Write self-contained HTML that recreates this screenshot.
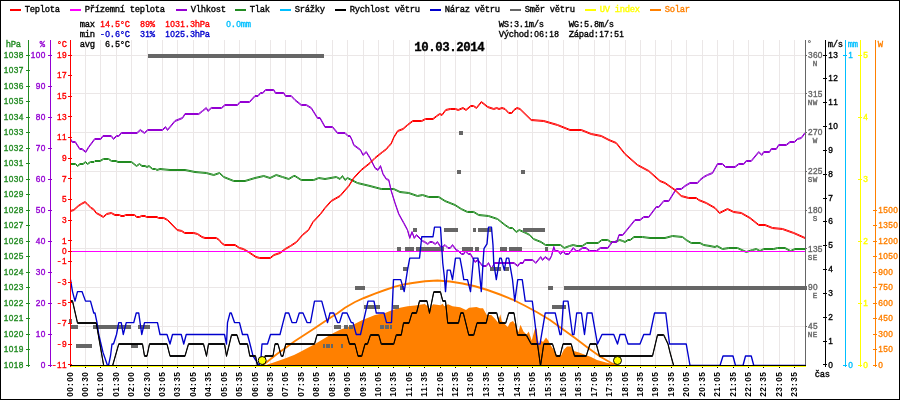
<!DOCTYPE html>
<html><head><meta charset="utf-8"><title>graf</title>
<style>
html,body{margin:0;padding:0;background:#fff;}
svg{display:block;will-change:transform;}
text{font-family:"Liberation Mono",monospace;stroke-width:0.35px;}
.d{font-family:"Liberation Sans",sans-serif;font-size:8.3px;}
</style></head><body>
<svg width="900" height="400" viewBox="0 0 900 400">
<rect x="0" y="0" width="900" height="400" fill="#fff"/>
<g shape-rendering="crispEdges" stroke="#ebe7e7" stroke-width="1">
<line x1="85.5" y1="40" x2="85.5" y2="365"/><line x1="100.5" y1="40" x2="100.5" y2="365"/><line x1="116.5" y1="40" x2="116.5" y2="365"/><line x1="131.5" y1="40" x2="131.5" y2="365"/><line x1="147.5" y1="40" x2="147.5" y2="365"/><line x1="162.5" y1="40" x2="162.5" y2="365"/><line x1="177.5" y1="40" x2="177.5" y2="365"/><line x1="193.5" y1="40" x2="193.5" y2="365"/><line x1="208.5" y1="40" x2="208.5" y2="365"/><line x1="224.5" y1="40" x2="224.5" y2="365"/><line x1="239.5" y1="40" x2="239.5" y2="365"/><line x1="255.5" y1="40" x2="255.5" y2="365"/><line x1="270.5" y1="40" x2="270.5" y2="365"/><line x1="285.5" y1="40" x2="285.5" y2="365"/><line x1="301.5" y1="40" x2="301.5" y2="365"/><line x1="316.5" y1="40" x2="316.5" y2="365"/><line x1="332.5" y1="40" x2="332.5" y2="365"/><line x1="347.5" y1="40" x2="347.5" y2="365"/><line x1="363.5" y1="40" x2="363.5" y2="365"/><line x1="378.5" y1="40" x2="378.5" y2="365"/><line x1="393.5" y1="40" x2="393.5" y2="365"/><line x1="409.5" y1="40" x2="409.5" y2="365"/><line x1="424.5" y1="40" x2="424.5" y2="365"/><line x1="440.5" y1="40" x2="440.5" y2="365"/><line x1="455.5" y1="40" x2="455.5" y2="365"/><line x1="470.5" y1="40" x2="470.5" y2="365"/><line x1="486.5" y1="40" x2="486.5" y2="365"/><line x1="501.5" y1="40" x2="501.5" y2="365"/><line x1="517.5" y1="40" x2="517.5" y2="365"/><line x1="532.5" y1="40" x2="532.5" y2="365"/><line x1="548.5" y1="40" x2="548.5" y2="365"/><line x1="563.5" y1="40" x2="563.5" y2="365"/><line x1="578.5" y1="40" x2="578.5" y2="365"/><line x1="594.5" y1="40" x2="594.5" y2="365"/><line x1="609.5" y1="40" x2="609.5" y2="365"/><line x1="625.5" y1="40" x2="625.5" y2="365"/><line x1="640.5" y1="40" x2="640.5" y2="365"/><line x1="655.5" y1="40" x2="655.5" y2="365"/><line x1="671.5" y1="40" x2="671.5" y2="365"/><line x1="686.5" y1="40" x2="686.5" y2="365"/><line x1="702.5" y1="40" x2="702.5" y2="365"/><line x1="717.5" y1="40" x2="717.5" y2="365"/><line x1="733.5" y1="40" x2="733.5" y2="365"/><line x1="748.5" y1="40" x2="748.5" y2="365"/><line x1="763.5" y1="40" x2="763.5" y2="365"/><line x1="779.5" y1="40" x2="779.5" y2="365"/><line x1="794.5" y1="40" x2="794.5" y2="365"/><line x1="71" y1="55.5" x2="805" y2="55.5"/><line x1="71" y1="93.5" x2="805" y2="93.5"/><line x1="71" y1="132.5" x2="805" y2="132.5"/><line x1="71" y1="171.5" x2="805" y2="171.5"/><line x1="71" y1="210.5" x2="805" y2="210.5"/><line x1="71" y1="248.5" x2="805" y2="248.5"/><line x1="71" y1="287.5" x2="805" y2="287.5"/><line x1="71" y1="326.5" x2="805" y2="326.5"/>
</g>
<polygon fill="#ff8000" points="264.50,365.50 275.00,362.00 285.00,358.50 294.00,355.00 300.00,352.00 307.50,348.00 315.00,344.00 325.00,338.00 333.00,333.30 340.00,329.80 350.00,326.25 362.50,320.00 375.00,315.00 385.00,313.00 392.50,310.00 400.00,307.75 407.50,306.25 415.00,305.50 424.75,304.00 427.75,306.25 430.00,308.50 433.00,304.30 440.50,305.20 442.75,303.70 444.25,306.25 448.00,304.30 452.50,306.25 460.00,307.30 466.00,310.00 469.00,307.75 476.50,307.00 480.00,308.25 483.00,308.25 486.75,315.00 491.25,315.00 495.00,318.75 498.00,322.50 500.25,314.25 501.75,321.00 504.75,324.00 507.75,327.00 510.00,322.50 513.00,321.00 516.00,325.50 518.25,332.25 520.50,324.75 523.50,331.50 526.50,334.50 528.75,331.50 531.75,340.50 534.75,329.25 536.70,328.50 537.75,339.00 539.25,345.00 541.50,340.50 543.00,342.00 546.00,337.50 548.25,340.50 550.50,345.00 553.50,349.50 556.50,354.75 561.00,355.50 564.00,349.50 567.00,346.50 570.75,346.50 573.75,351.00 579.00,352.50 585.00,354.75 591.00,357.00 597.00,360.00 606.00,362.50 612.50,364.00 617.00,365.50 617,366 263,366"/>
<polyline fill="none" stroke="#ff8000" stroke-width="1.9" points="263.00,365.00 270.00,359.50 277.00,354.00 287.50,346.40 295.00,341.00 305.00,334.50 315.00,328.00 325.00,321.30 333.00,316.00 337.50,313.20 345.00,307.80 355.00,302.00 364.00,298.00 375.00,293.60 385.00,290.00 395.00,286.60 405.00,284.20 412.50,283.00 425.00,281.25 437.50,280.50 450.00,281.50 462.50,283.50 475.00,286.25 487.50,290.00 500.00,294.50 512.50,299.50 525.00,305.75 537.50,312.50 550.00,320.00 562.50,329.00 575.00,338.00 587.50,347.50 600.00,356.50 612.50,363.75 617.00,365.50"/>
<g fill="none" stroke="#228b22" stroke-width="1.0" stroke-linejoin="round"><polyline points="70.50,163.50 75.50,163.50 77.50,165.50 80.00,163.50 83.00,163.50 85.50,161.50 87.50,163.50 90.50,161.50 94.00,161.50 95.00,160.50 100.00,160.50 103.50,158.50 108.50,158.50 111.50,160.50 116.00,160.50 118.00,161.50 131.50,161.50 134.00,163.50 136.50,165.50 139.50,163.50 142.00,165.50 145.00,165.50 147.00,166.50 149.00,165.50 152.50,168.50 155.50,168.50 157.00,169.50 160.00,168.50 170.00,169.50 185.00,169.50 195.00,171.50 206.25,172.50 213.75,174.50 219.50,172.50 223.75,176.50 233.75,180.50 245.00,180.50 255.00,177.50 263.75,175.50 270.00,177.50 276.25,174.50 282.50,176.50 288.75,178.50 293.75,175.50 295.00,175.50 301.25,179.50 313.75,179.50 318.75,177.50 325.00,178.50 336.25,176.50 340.00,178.50 342.50,175.50 345.00,179.50 347.50,177.50 357.50,182.50 370.00,185.50 381.25,188.50 393.75,188.50 400.00,191.50 408.75,192.50 417.50,195.50 422.50,194.50 428.75,196.50 438.75,196.50 445.00,200.50 455.00,204.50 461.25,208.50 467.50,211.50 473.75,211.50 478.75,214.50 488.50,215.50 497.50,218.50 505.00,224.50 509.50,227.50 512.50,227.50 516.25,231.50 519.25,229.50 526.00,232.50 529.75,234.50 533.50,238.50 541.00,241.50 545.50,244.50 560.50,244.50 564.25,247.50 569.50,245.50 573.25,244.50 577.00,245.50 582.25,245.50 586.75,242.50 598.00,242.50 601.75,239.50 607.75,239.50 610.75,241.50 614.50,241.50 619.75,239.50 622.75,240.50 625.00,241.50 628.00,239.50 630.25,239.50 634.00,236.50 642.50,236.50 650.00,237.50 665.00,237.50 672.50,235.50 682.50,236.50 686.25,239.50 691.25,242.50 700.00,242.50 703.75,244.50 710.00,245.50 715.00,246.50 717.00,245.50 722.50,248.50 728.75,247.50 737.50,247.50 746.25,251.50 752.50,249.50 756.25,248.50 760.00,250.50 763.75,248.50 773.75,248.50 777.50,247.50 785.00,247.50 790.50,250.50 795.00,248.50 805.00,248.50"/><polyline points="70.50,164.50 75.50,164.50 77.50,166.50 80.00,164.50 83.00,164.50 85.50,162.50 87.50,164.50 90.50,162.50 94.00,162.50 95.00,161.50 100.00,161.50 103.50,159.50 108.50,159.50 111.50,161.50 116.00,161.50 118.00,162.50 131.50,162.50 134.00,164.50 136.50,166.50 139.50,164.50 142.00,166.50 145.00,166.50 147.00,167.50 149.00,166.50 152.50,169.50 155.50,169.50 157.00,170.50 160.00,169.50 170.00,170.50 185.00,170.50 195.00,172.50 206.25,173.50 213.75,175.50 219.50,173.50 223.75,177.50 233.75,181.50 245.00,181.50 255.00,178.50 263.75,176.50 270.00,178.50 276.25,175.50 282.50,177.50 288.75,179.50 293.75,176.50 295.00,176.50 301.25,180.50 313.75,180.50 318.75,178.50 325.00,179.50 336.25,177.50 340.00,179.50 342.50,176.50 345.00,180.50 347.50,178.50 357.50,183.50 370.00,186.50 381.25,189.50 393.75,189.50 400.00,192.50 408.75,193.50 417.50,196.50 422.50,195.50 428.75,197.50 438.75,197.50 445.00,201.50 455.00,205.50 461.25,209.50 467.50,212.50 473.75,212.50 478.75,215.50 488.50,216.50 497.50,219.50 505.00,225.50 509.50,228.50 512.50,228.50 516.25,232.50 519.25,230.50 526.00,233.50 529.75,235.50 533.50,239.50 541.00,242.50 545.50,245.50 560.50,245.50 564.25,248.50 569.50,246.50 573.25,245.50 577.00,246.50 582.25,246.50 586.75,243.50 598.00,243.50 601.75,240.50 607.75,240.50 610.75,242.50 614.50,242.50 619.75,240.50 622.75,241.50 625.00,242.50 628.00,240.50 630.25,240.50 634.00,237.50 642.50,237.50 650.00,238.50 665.00,238.50 672.50,236.50 682.50,237.50 686.25,240.50 691.25,243.50 700.00,243.50 703.75,245.50 710.00,246.50 715.00,247.50 717.00,246.50 722.50,249.50 728.75,248.50 737.50,248.50 746.25,252.50 752.50,250.50 756.25,249.50 760.00,251.50 763.75,249.50 773.75,249.50 777.50,248.50 785.00,248.50 790.50,251.50 795.00,249.50 805.00,249.50"/></g>
<g fill="none" stroke="#9400d3" stroke-width="1.0" stroke-linejoin="round"><polyline points="70.50,138.50 72.25,141.50 75.25,141.50 79.75,148.50 82.00,148.50 85.75,151.50 88.75,146.50 94.75,138.50 100.75,138.50 103.00,135.50 111.25,135.50 113.50,138.50 116.50,135.50 118.75,135.50 121.30,132.50 137.00,132.50 140.25,129.50 144.50,132.50 147.75,129.50 162.50,129.50 165.50,126.50 167.50,129.50 175.00,120.50 182.50,117.50 185.00,113.50 198.75,113.50 202.50,110.50 206.25,107.50 208.00,110.50 211.25,107.50 221.50,107.50 225.00,104.50 237.50,104.50 240.00,101.50 249.50,101.50 255.00,95.50 258.00,95.50 260.50,92.50 262.75,92.50 265.50,89.50 273.75,89.50 275.50,92.50 283.75,92.50 285.50,95.50 291.25,95.50 295.00,99.50 301.25,104.50 306.25,104.50 311.25,107.50 317.50,117.50 320.00,117.50 325.00,126.50 332.50,126.50 337.50,132.50 345.00,132.50 348.00,135.50 350.00,135.50 352.00,139.50 353.75,144.50 360.50,149.50 363.00,154.50 366.25,151.50 370.00,157.50 375.00,167.50 378.00,169.50 380.50,165.50 383.00,173.50 386.25,178.50 388.75,179.50 391.25,190.50 395.00,202.50 398.75,213.50 403.75,222.50 407.50,229.50 409.75,237.50 412.00,231.50 414.25,237.50 416.50,234.50 422.50,240.50 424.75,241.50 427.75,243.50 430.00,241.50 432.25,241.50 435.25,243.50 437.50,241.50 441.25,247.50 445.00,244.50 448.00,247.50 450.25,247.50 452.50,244.50 456.25,249.50 458.50,250.50 461.50,253.50 463.75,253.50 465.25,250.50 468.25,253.50 470.50,253.50 475.00,261.50 478.00,259.50 482.50,265.50 486.25,265.50 488.50,262.50 491.50,268.50 494.50,262.50 514.00,262.50 517.75,265.50 520.00,262.50 523.00,262.50 524.50,259.50 532.75,259.50 535.75,262.50 540.70,256.50 542.50,259.50 545.20,256.50 549.25,259.50 551.50,255.50 553.75,246.50 555.25,250.50 558.25,250.50 560.50,253.50 563.20,250.50 565.30,253.50 568.75,253.50 573.25,247.50 576.25,250.50 578.50,250.50 582.25,247.50 586.00,247.50 589.75,250.50 596.50,250.50 600.25,247.50 607.75,247.50 612.25,241.50 616.75,241.50 619.00,234.50 622.75,234.50 635.00,219.50 640.00,219.50 643.75,216.50 648.75,216.50 656.25,206.50 658.75,206.50 663.75,200.50 668.75,200.50 676.25,188.50 681.25,188.50 685.00,185.50 690.00,182.50 697.50,182.50 700.00,179.50 703.75,176.50 707.50,174.50 712.50,172.50 717.50,163.50 722.50,163.50 725.50,166.50 735.00,166.50 738.75,163.50 743.75,163.50 746.25,160.50 751.25,160.50 758.75,151.50 761.75,154.50 763.75,151.50 769.50,151.50 771.25,148.50 776.25,148.50 778.75,144.50 786.25,144.50 790.00,141.50 794.50,141.50 797.50,138.50 801.25,137.50 805.00,132.50"/><polyline points="70.50,139.50 72.25,142.50 75.25,142.50 79.75,149.50 82.00,149.50 85.75,152.50 88.75,147.50 94.75,139.50 100.75,139.50 103.00,136.50 111.25,136.50 113.50,139.50 116.50,136.50 118.75,136.50 121.30,133.50 137.00,133.50 140.25,130.50 144.50,133.50 147.75,130.50 162.50,130.50 165.50,127.50 167.50,130.50 175.00,121.50 182.50,118.50 185.00,114.50 198.75,114.50 202.50,111.50 206.25,108.50 208.00,111.50 211.25,108.50 221.50,108.50 225.00,105.50 237.50,105.50 240.00,102.50 249.50,102.50 255.00,96.50 258.00,96.50 260.50,93.50 262.75,93.50 265.50,90.50 273.75,90.50 275.50,93.50 283.75,93.50 285.50,96.50 291.25,96.50 295.00,100.50 301.25,105.50 306.25,105.50 311.25,108.50 317.50,118.50 320.00,118.50 325.00,127.50 332.50,127.50 337.50,133.50 345.00,133.50 348.00,136.50 350.00,136.50 352.00,140.50 353.75,145.50 360.50,150.50 363.00,155.50 366.25,152.50 370.00,158.50 375.00,168.50 378.00,170.50 380.50,166.50 383.00,174.50 386.25,179.50 388.75,180.50 391.25,191.50 395.00,203.50 398.75,214.50 403.75,223.50 407.50,230.50 409.75,238.50 412.00,232.50 414.25,238.50 416.50,235.50 422.50,241.50 424.75,242.50 427.75,244.50 430.00,242.50 432.25,242.50 435.25,244.50 437.50,242.50 441.25,248.50 445.00,245.50 448.00,248.50 450.25,248.50 452.50,245.50 456.25,250.50 458.50,251.50 461.50,254.50 463.75,254.50 465.25,251.50 468.25,254.50 470.50,254.50 475.00,262.50 478.00,260.50 482.50,266.50 486.25,266.50 488.50,263.50 491.50,269.50 494.50,263.50 514.00,263.50 517.75,266.50 520.00,263.50 523.00,263.50 524.50,260.50 532.75,260.50 535.75,263.50 540.70,257.50 542.50,260.50 545.20,257.50 549.25,260.50 551.50,256.50 553.75,247.50 555.25,251.50 558.25,251.50 560.50,254.50 563.20,251.50 565.30,254.50 568.75,254.50 573.25,248.50 576.25,251.50 578.50,251.50 582.25,248.50 586.00,248.50 589.75,251.50 596.50,251.50 600.25,248.50 607.75,248.50 612.25,242.50 616.75,242.50 619.00,235.50 622.75,235.50 635.00,220.50 640.00,220.50 643.75,217.50 648.75,217.50 656.25,207.50 658.75,207.50 663.75,201.50 668.75,201.50 676.25,189.50 681.25,189.50 685.00,186.50 690.00,183.50 697.50,183.50 700.00,180.50 703.75,177.50 707.50,175.50 712.50,173.50 717.50,164.50 722.50,164.50 725.50,167.50 735.00,167.50 738.75,164.50 743.75,164.50 746.25,161.50 751.25,161.50 758.75,152.50 761.75,155.50 763.75,152.50 769.50,152.50 771.25,149.50 776.25,149.50 778.75,145.50 786.25,145.50 790.00,142.50 794.50,142.50 797.50,139.50 801.25,138.50 805.00,133.50"/></g>
<g fill="none" stroke="#ff0000" stroke-width="1.0" stroke-linejoin="round"><polyline points="70.50,210.50 73.75,209.50 78.25,205.50 81.25,203.50 85.00,201.50 87.25,203.50 91.00,207.50 93.25,208.50 96.25,212.50 100.00,214.50 103.30,216.50 106.75,213.50 111.25,212.50 115.00,214.50 119.50,214.50 121.00,215.50 124.00,215.50 125.50,214.50 134.50,214.50 136.75,216.50 139.75,216.50 141.25,215.50 145.00,215.50 146.50,216.50 157.00,216.50 158.50,217.50 163.75,217.50 167.50,219.50 177.25,229.50 181.75,230.50 184.75,232.50 193.75,232.50 197.50,233.50 202.00,236.50 205.00,237.50 216.25,237.50 219.25,239.50 221.50,242.50 224.50,244.50 235.00,244.50 239.50,247.50 243.25,248.50 248.50,251.50 256.00,256.50 259.75,257.50 270.25,257.50 274.00,254.50 280.00,252.50 285.25,248.50 290.50,245.50 296.50,241.50 302.50,234.50 308.50,229.50 313.00,221.50 320.50,213.50 325.00,207.50 331.25,200.50 340.00,195.50 348.75,185.50 353.75,177.50 361.25,169.50 370.00,162.50 375.00,157.50 382.50,151.50 386.50,148.50 388.75,145.50 391.00,143.50 394.00,136.50 397.75,130.50 403.00,128.50 407.50,124.50 412.75,120.50 415.00,120.50 421.75,120.50 425.50,118.50 433.00,118.50 436.75,115.50 439.75,113.50 442.00,114.50 445.75,109.50 450.25,108.50 455.50,108.50 458.20,109.50 463.00,107.50 466.00,109.50 470.80,105.50 473.50,105.50 476.50,107.50 481.30,101.50 484.00,103.50 487.75,106.50 493.75,108.50 496.75,107.50 499.00,108.50 502.00,107.50 505.00,108.50 508.75,112.50 511.75,112.50 514.00,109.50 517.00,107.50 520.00,108.50 531.25,119.50 543.75,120.50 557.50,124.50 570.00,129.50 581.25,129.50 591.25,133.50 601.25,135.50 609.00,139.50 616.25,142.50 625.00,153.50 637.50,164.50 648.75,170.50 660.00,180.50 665.00,182.50 675.00,189.50 681.25,195.50 688.75,197.50 696.25,197.50 698.75,199.50 706.25,202.50 715.00,207.50 719.50,212.50 727.50,208.50 733.75,211.50 741.25,212.50 750.00,217.50 758.75,224.50 765.00,224.50 772.50,227.50 782.50,228.50 793.75,232.50 805.00,237.50"/><polyline points="70.50,211.50 73.75,210.50 78.25,206.50 81.25,204.50 85.00,202.50 87.25,204.50 91.00,208.50 93.25,209.50 96.25,213.50 100.00,215.50 103.30,217.50 106.75,214.50 111.25,213.50 115.00,215.50 119.50,215.50 121.00,216.50 124.00,216.50 125.50,215.50 134.50,215.50 136.75,217.50 139.75,217.50 141.25,216.50 145.00,216.50 146.50,217.50 157.00,217.50 158.50,218.50 163.75,218.50 167.50,220.50 177.25,230.50 181.75,231.50 184.75,233.50 193.75,233.50 197.50,234.50 202.00,237.50 205.00,238.50 216.25,238.50 219.25,240.50 221.50,243.50 224.50,245.50 235.00,245.50 239.50,248.50 243.25,249.50 248.50,252.50 256.00,257.50 259.75,258.50 270.25,258.50 274.00,255.50 280.00,253.50 285.25,249.50 290.50,246.50 296.50,242.50 302.50,235.50 308.50,230.50 313.00,222.50 320.50,214.50 325.00,208.50 331.25,201.50 340.00,196.50 348.75,186.50 353.75,178.50 361.25,170.50 370.00,163.50 375.00,158.50 382.50,152.50 386.50,149.50 388.75,146.50 391.00,144.50 394.00,137.50 397.75,131.50 403.00,129.50 407.50,125.50 412.75,121.50 415.00,121.50 421.75,121.50 425.50,119.50 433.00,119.50 436.75,116.50 439.75,114.50 442.00,115.50 445.75,110.50 450.25,109.50 455.50,109.50 458.20,110.50 463.00,108.50 466.00,110.50 470.80,106.50 473.50,106.50 476.50,108.50 481.30,102.50 484.00,104.50 487.75,107.50 493.75,109.50 496.75,108.50 499.00,109.50 502.00,108.50 505.00,109.50 508.75,113.50 511.75,113.50 514.00,110.50 517.00,108.50 520.00,109.50 531.25,120.50 543.75,121.50 557.50,125.50 570.00,130.50 581.25,130.50 591.25,134.50 601.25,136.50 609.00,140.50 616.25,143.50 625.00,154.50 637.50,165.50 648.75,171.50 660.00,181.50 665.00,183.50 675.00,190.50 681.25,196.50 688.75,198.50 696.25,198.50 698.75,200.50 706.25,203.50 715.00,208.50 719.50,213.50 727.50,209.50 733.75,212.50 741.25,213.50 750.00,218.50 758.75,225.50 765.00,225.50 772.50,228.50 782.50,229.50 793.75,233.50 805.00,238.50"/></g>
<g shape-rendering="crispEdges"><rect x="71" y="251" width="735" height="1" fill="#ff00ff"/></g>
<g fill="#666" shape-rendering="crispEdges"><rect x="148.0" y="54" width="176.0" height="4"/><rect x="459.0" y="131" width="3.5" height="4"/><rect x="457.0" y="170" width="3.5" height="4"/><rect x="521.0" y="170" width="4.0" height="4"/><rect x="413.0" y="228" width="4.0" height="4"/><rect x="444.0" y="228" width="14.0" height="4"/><rect x="472.5" y="228" width="3.5" height="4"/><rect x="477.5" y="228" width="14.0" height="4"/><rect x="523.0" y="228" width="22.0" height="4"/><rect x="397.0" y="247" width="3.5" height="4"/><rect x="405.0" y="247" width="8.5" height="4"/><rect x="415.5" y="247" width="28.5" height="4"/><rect x="462.0" y="247" width="10.8" height="4"/><rect x="475.0" y="247" width="3.8" height="4"/><rect x="500.0" y="247" width="6.5" height="4"/><rect x="508.5" y="247" width="13.0" height="4"/><rect x="544.5" y="247" width="3.2" height="4"/><rect x="403.0" y="267" width="4.5" height="4"/><rect x="490.0" y="267" width="10.5" height="4"/><rect x="504.2" y="267" width="4.5" height="4"/><rect x="354.5" y="286" width="10.0" height="4"/><rect x="400.0" y="286" width="3.8" height="4"/><rect x="547.5" y="286" width="5.5" height="4"/><rect x="564.2" y="286" width="242.8" height="4"/><rect x="364.2" y="305" width="16.2" height="4"/><rect x="392.5" y="305" width="6.3" height="4"/><rect x="552.2" y="305" width="13.5" height="4"/><rect x="70.0" y="325" width="7.5" height="4"/><rect x="92.5" y="325" width="38.0" height="4"/><rect x="138.0" y="325" width="11.5" height="4"/><rect x="333.8" y="325" width="7.5" height="4"/><rect x="343.5" y="325" width="2.2" height="4"/><rect x="346.1" y="325" width="2.2" height="4"/><rect x="348.6" y="325" width="2.2" height="4"/><rect x="351.2" y="325" width="2.2" height="4"/><rect x="379.5" y="325" width="2.2" height="4"/><rect x="382.1" y="325" width="2.2" height="4"/><rect x="384.6" y="325" width="2.2" height="4"/><rect x="387.2" y="325" width="2.2" height="4"/><rect x="389.8" y="325" width="2.2" height="4"/><rect x="76.2" y="344" width="16.2" height="4"/><rect x="130.5" y="344" width="7.5" height="4"/><rect x="323.0" y="344" width="2.2" height="4"/><rect x="325.6" y="344" width="2.2" height="4"/><rect x="328.1" y="344" width="2.2" height="4"/><rect x="330.7" y="344" width="2.2" height="4"/><rect x="341.2" y="344" width="1.8" height="4"/><rect x="69.0" y="319" width="3.0" height="4"/></g>
<polyline fill="none" stroke="#0000cd" stroke-width="1.35" stroke-linejoin="round" points="70.50,279.65 72.50,291.58 75.00,301.12 77.50,291.58 82.00,291.58 85.50,301.12 90.50,301.12 93.75,313.04 95.00,313.04 97.00,322.58 98.75,334.50 103.00,352.38 107.50,365.50 108.50,365.50 110.50,355.96 112.00,344.04 113.50,344.04 116.50,334.50 118.75,322.58 121.25,322.58 123.25,334.50 126.25,322.58 133.75,322.58 136.25,313.04 138.75,313.04 141.75,334.50 144.50,322.58 157.50,322.58 160.00,334.50 167.00,334.50 170.00,344.04 172.50,334.50 181.25,334.50 183.75,344.04 186.25,334.50 224.50,334.50 226.50,344.04 227.50,322.58 230.00,313.04 231.25,313.04 234.50,322.58 239.50,322.58 242.50,334.50 247.50,334.50 250.00,344.04 253.00,355.96 259.00,365.50 261.00,357.87 262.00,344.04 267.50,344.04 270.50,334.50 280.00,334.50 283.00,322.58 285.50,313.04 288.75,313.04 292.00,322.58 296.25,322.58 299.25,313.04 303.00,313.04 307.00,322.58 310.50,322.58 314.50,301.12 321.75,301.12 327.50,322.58 330.00,313.04 333.75,313.04 337.50,322.58 339.50,322.58 342.50,313.04 347.00,313.04 351.25,322.58 353.00,322.58 356.25,334.50 360.50,334.50 368.00,301.12 374.00,301.12 376.30,313.04 384.00,313.04 386.50,322.58 391.50,322.58 393.50,279.65 400.75,279.65 404.20,291.58 407.50,270.12 409.75,258.19 419.50,258.19 421.75,236.73 433.00,236.73 434.50,227.19 440.50,227.19 442.75,262.96 444.25,275.84 445.50,291.58 447.25,270.12 450.25,270.12 452.50,279.65 455.50,258.19 460.00,258.19 462.25,270.12 463.75,279.65 467.50,279.65 470.50,291.58 473.50,258.19 478.00,258.19 481.30,291.58 483.25,259.39 484.00,248.65 487.00,243.89 488.50,227.19 491.50,227.19 493.00,245.08 493.75,262.96 496.30,279.65 499.75,258.19 501.25,258.19 504.25,270.12 506.50,258.19 508.75,258.19 512.50,279.65 514.75,301.12 517.75,279.65 522.25,279.65 525.25,301.12 532.30,301.12 537.50,344.04 540.00,344.04 545.20,313.04 555.25,313.04 560.00,334.50 561.25,334.50 563.50,301.12 568.00,301.12 572.50,334.50 574.00,334.50 576.70,313.04 581.50,313.04 584.50,334.50 587.20,313.04 592.00,313.04 597.50,344.04 602.00,334.50 613.75,334.50 617.50,344.04 620.00,334.50 625.00,334.50 628.00,344.04 640.00,344.04 643.75,334.50 650.00,334.50 654.50,313.04 665.75,313.04 669.50,344.04 686.25,344.04 690.00,365.50 720.00,365.50 723.00,355.96 733.00,355.96 735.50,365.50 743.00,365.50 745.50,355.96 751.25,355.96 753.75,365.50 805.50,365.50"/>
<g fill="none" stroke="#000" stroke-width="0.95" stroke-linejoin="round"><polyline points="70.50,300.50 72.50,300.50 77.50,322.50 96.25,322.50 103.75,365.50 112.50,365.50 118.75,343.50 142.50,343.50 144.50,355.50 147.00,355.50 149.50,343.50 167.00,343.50 170.00,355.50 185.00,355.50 188.50,343.50 203.50,343.50 206.50,355.50 208.50,343.50 224.50,343.50 226.50,355.50 231.50,334.50 237.00,334.50 239.80,343.50 247.50,343.50 249.80,355.50 255.50,355.50 257.50,365.50 263.00,365.50 265.00,355.50 273.00,355.50 275.00,343.50 278.00,343.50 281.25,355.50 283.00,355.50 285.75,343.50 314.50,343.50 317.00,334.50 347.00,334.50 349.50,343.50 355.00,343.50 358.00,355.50 361.75,355.50 365.00,343.50 367.50,343.50 370.50,334.50 378.75,334.50 381.25,343.50 393.75,343.50 396.25,334.50 401.25,334.50 403.50,322.50 409.00,322.50 412.00,312.50 416.50,312.50 419.50,300.50 427.00,300.50 429.50,312.50 433.75,291.50 440.50,291.50 442.75,300.50 445.50,300.50 447.70,322.50 458.50,322.50 460.75,312.50 463.30,312.50 468.75,334.50 473.75,334.50 477.00,322.50 486.25,322.50 488.50,312.50 496.75,312.50 499.30,322.50 505.75,322.50 508.75,312.50 514.00,312.50 517.50,334.50 526.25,334.50 531.25,343.50 537.50,343.50 540.50,365.50 543.75,343.50 552.50,343.50 556.25,355.50 560.00,355.50 563.00,343.50 571.25,343.50 574.50,355.50 586.25,355.50 590.00,343.50 596.25,343.50 599.50,355.50 652.50,355.50 657.50,334.50 663.75,334.50 668.00,343.50 670.00,351.90 673.75,365.50 805.50,365.50"/><polyline points="70.50,301.50 72.50,301.50 77.50,323.50 96.25,323.50 103.75,366.50 112.50,366.50 118.75,344.50 142.50,344.50 144.50,356.50 147.00,356.50 149.50,344.50 167.00,344.50 170.00,356.50 185.00,356.50 188.50,344.50 203.50,344.50 206.50,356.50 208.50,344.50 224.50,344.50 226.50,356.50 231.50,335.50 237.00,335.50 239.80,344.50 247.50,344.50 249.80,356.50 255.50,356.50 257.50,366.50 263.00,366.50 265.00,356.50 273.00,356.50 275.00,344.50 278.00,344.50 281.25,356.50 283.00,356.50 285.75,344.50 314.50,344.50 317.00,335.50 347.00,335.50 349.50,344.50 355.00,344.50 358.00,356.50 361.75,356.50 365.00,344.50 367.50,344.50 370.50,335.50 378.75,335.50 381.25,344.50 393.75,344.50 396.25,335.50 401.25,335.50 403.50,323.50 409.00,323.50 412.00,313.50 416.50,313.50 419.50,301.50 427.00,301.50 429.50,313.50 433.75,292.50 440.50,292.50 442.75,301.50 445.50,301.50 447.70,323.50 458.50,323.50 460.75,313.50 463.30,313.50 468.75,335.50 473.75,335.50 477.00,323.50 486.25,323.50 488.50,313.50 496.75,313.50 499.30,323.50 505.75,323.50 508.75,313.50 514.00,313.50 517.50,335.50 526.25,335.50 531.25,344.50 537.50,344.50 540.50,366.50 543.75,344.50 552.50,344.50 556.25,356.50 560.00,356.50 563.00,344.50 571.25,344.50 574.50,356.50 586.25,356.50 590.00,344.50 596.25,344.50 599.50,356.50 652.50,356.50 657.50,335.50 663.75,335.50 668.00,344.50 670.00,352.90 673.75,366.50 805.50,366.50"/></g>
<circle cx="262.2" cy="360.5" r="4" fill="#ffff00" stroke="#000" stroke-width="1"/><circle cx="617.5" cy="360.5" r="4" fill="#ffff00" stroke="#000" stroke-width="1"/>
<g shape-rendering="crispEdges">
<rect x="28" y="40" width="1" height="327" fill="#228b22"/><rect x="26" y="55" width="4" height="1" fill="#228b22"/><rect x="26" y="70" width="4" height="1" fill="#228b22"/><rect x="26" y="86" width="4" height="1" fill="#228b22"/><rect x="26" y="101" width="4" height="1" fill="#228b22"/><rect x="26" y="117" width="4" height="1" fill="#228b22"/><rect x="26" y="132" width="4" height="1" fill="#228b22"/><rect x="26" y="148" width="4" height="1" fill="#228b22"/><rect x="26" y="163" width="4" height="1" fill="#228b22"/><rect x="26" y="179" width="4" height="1" fill="#228b22"/><rect x="26" y="194" width="4" height="1" fill="#228b22"/><rect x="26" y="210" width="4" height="1" fill="#228b22"/><rect x="26" y="225" width="4" height="1" fill="#228b22"/><rect x="26" y="241" width="4" height="1" fill="#228b22"/><rect x="26" y="256" width="4" height="1" fill="#228b22"/><rect x="26" y="272" width="4" height="1" fill="#228b22"/><rect x="26" y="287" width="4" height="1" fill="#228b22"/><rect x="26" y="303" width="4" height="1" fill="#228b22"/><rect x="26" y="318" width="4" height="1" fill="#228b22"/><rect x="26" y="334" width="4" height="1" fill="#228b22"/><rect x="26" y="349" width="4" height="1" fill="#228b22"/><rect x="26" y="365" width="4" height="1" fill="#228b22"/><rect x="50" y="40" width="1" height="327" fill="#9400d3"/><rect x="48" y="55" width="4" height="1" fill="#9400d3"/><rect x="48" y="86" width="4" height="1" fill="#9400d3"/><rect x="48" y="117" width="4" height="1" fill="#9400d3"/><rect x="48" y="148" width="4" height="1" fill="#9400d3"/><rect x="48" y="179" width="4" height="1" fill="#9400d3"/><rect x="48" y="210" width="4" height="1" fill="#9400d3"/><rect x="48" y="241" width="4" height="1" fill="#9400d3"/><rect x="48" y="272" width="4" height="1" fill="#9400d3"/><rect x="48" y="303" width="4" height="1" fill="#9400d3"/><rect x="48" y="334" width="4" height="1" fill="#9400d3"/><rect x="48" y="365" width="4" height="1" fill="#9400d3"/><rect x="70" y="40" width="1" height="327" fill="#ff0000"/><rect x="68" y="55" width="4" height="1" fill="#ff0000"/><rect x="68" y="75" width="4" height="1" fill="#ff0000"/><rect x="68" y="96" width="4" height="1" fill="#ff0000"/><rect x="68" y="116" width="4" height="1" fill="#ff0000"/><rect x="68" y="137" width="4" height="1" fill="#ff0000"/><rect x="68" y="158" width="4" height="1" fill="#ff0000"/><rect x="68" y="178" width="4" height="1" fill="#ff0000"/><rect x="68" y="199" width="4" height="1" fill="#ff0000"/><rect x="68" y="220" width="4" height="1" fill="#ff0000"/><rect x="68" y="240" width="4" height="1" fill="#ff0000"/><rect x="68" y="261" width="4" height="1" fill="#ff0000"/><rect x="68" y="282" width="4" height="1" fill="#ff0000"/><rect x="68" y="302" width="4" height="1" fill="#ff0000"/><rect x="68" y="323" width="4" height="1" fill="#ff0000"/><rect x="68" y="344" width="4" height="1" fill="#ff0000"/><rect x="68" y="364" width="4" height="1" fill="#ff0000"/><rect x="68" y="251" width="4" height="1" fill="#ff0000"/><rect x="805" y="40" width="1" height="326" fill="#666"/><rect x="806" y="55" width="1" height="1" fill="#666"/><rect x="806" y="93" width="1" height="1" fill="#666"/><rect x="806" y="132" width="1" height="1" fill="#666"/><rect x="806" y="171" width="1" height="1" fill="#666"/><rect x="806" y="210" width="1" height="1" fill="#666"/><rect x="806" y="248" width="1" height="1" fill="#666"/><rect x="806" y="287" width="1" height="1" fill="#666"/><rect x="806" y="326" width="1" height="1" fill="#666"/><rect x="825" y="40" width="1" height="327" fill="#000"/><rect x="823" y="55" width="4" height="1" fill="#000"/><rect x="823" y="78" width="4" height="1" fill="#000"/><rect x="823" y="102" width="4" height="1" fill="#000"/><rect x="823" y="126" width="4" height="1" fill="#000"/><rect x="823" y="150" width="4" height="1" fill="#000"/><rect x="823" y="174" width="4" height="1" fill="#000"/><rect x="823" y="198" width="4" height="1" fill="#000"/><rect x="823" y="221" width="4" height="1" fill="#000"/><rect x="823" y="245" width="4" height="1" fill="#000"/><rect x="823" y="269" width="4" height="1" fill="#000"/><rect x="823" y="293" width="4" height="1" fill="#000"/><rect x="823" y="317" width="4" height="1" fill="#000"/><rect x="823" y="341" width="4" height="1" fill="#000"/><rect x="823" y="364" width="4" height="1" fill="#000"/><rect x="845" y="40" width="1" height="327" fill="#00bfff"/><rect x="843" y="55" width="4" height="1" fill="#00bfff"/><rect x="843" y="365" width="4" height="1" fill="#00bfff"/><rect x="860" y="40" width="1" height="327" fill="#ffff00"/><rect x="858" y="55" width="4" height="1" fill="#ffff00"/><rect x="858" y="117" width="4" height="1" fill="#ffff00"/><rect x="858" y="179" width="4" height="1" fill="#ffff00"/><rect x="858" y="241" width="4" height="1" fill="#ffff00"/><rect x="858" y="303" width="4" height="1" fill="#ffff00"/><rect x="858" y="365" width="4" height="1" fill="#ffff00"/><rect x="875" y="40" width="1" height="327" fill="#ff8000"/><rect x="873" y="365" width="4" height="1" fill="#ff8000"/><rect x="873" y="349" width="4" height="1" fill="#ff8000"/><rect x="873" y="334" width="4" height="1" fill="#ff8000"/><rect x="873" y="318" width="4" height="1" fill="#ff8000"/><rect x="873" y="303" width="4" height="1" fill="#ff8000"/><rect x="873" y="287" width="4" height="1" fill="#ff8000"/><rect x="873" y="272" width="4" height="1" fill="#ff8000"/><rect x="873" y="256" width="4" height="1" fill="#ff8000"/><rect x="873" y="241" width="4" height="1" fill="#ff8000"/><rect x="873" y="225" width="4" height="1" fill="#ff8000"/><rect x="873" y="210" width="4" height="1" fill="#ff8000"/><rect x="71" y="366" width="735" height="1" fill="#ffff00"/><rect x="70" y="365" width="736" height="1" fill="#000"/><rect x="85" y="367" width="1" height="1" fill="#000"/><rect x="100" y="367" width="1" height="1" fill="#000"/><rect x="116" y="367" width="1" height="1" fill="#000"/><rect x="131" y="367" width="1" height="1" fill="#000"/><rect x="147" y="367" width="1" height="1" fill="#000"/><rect x="162" y="367" width="1" height="1" fill="#000"/><rect x="177" y="367" width="1" height="1" fill="#000"/><rect x="193" y="367" width="1" height="1" fill="#000"/><rect x="208" y="367" width="1" height="1" fill="#000"/><rect x="224" y="367" width="1" height="1" fill="#000"/><rect x="239" y="367" width="1" height="1" fill="#000"/><rect x="255" y="367" width="1" height="1" fill="#000"/><rect x="270" y="367" width="1" height="1" fill="#000"/><rect x="285" y="367" width="1" height="1" fill="#000"/><rect x="301" y="367" width="1" height="1" fill="#000"/><rect x="316" y="367" width="1" height="1" fill="#000"/><rect x="332" y="367" width="1" height="1" fill="#000"/><rect x="347" y="367" width="1" height="1" fill="#000"/><rect x="363" y="367" width="1" height="1" fill="#000"/><rect x="378" y="367" width="1" height="1" fill="#000"/><rect x="393" y="367" width="1" height="1" fill="#000"/><rect x="409" y="367" width="1" height="1" fill="#000"/><rect x="424" y="367" width="1" height="1" fill="#000"/><rect x="440" y="367" width="1" height="1" fill="#000"/><rect x="455" y="367" width="1" height="1" fill="#000"/><rect x="470" y="367" width="1" height="1" fill="#000"/><rect x="486" y="367" width="1" height="1" fill="#000"/><rect x="501" y="367" width="1" height="1" fill="#000"/><rect x="517" y="367" width="1" height="1" fill="#000"/><rect x="532" y="367" width="1" height="1" fill="#000"/><rect x="548" y="367" width="1" height="1" fill="#000"/><rect x="563" y="367" width="1" height="1" fill="#000"/><rect x="578" y="367" width="1" height="1" fill="#000"/><rect x="594" y="367" width="1" height="1" fill="#000"/><rect x="609" y="367" width="1" height="1" fill="#000"/><rect x="625" y="367" width="1" height="1" fill="#000"/><rect x="640" y="367" width="1" height="1" fill="#000"/><rect x="655" y="367" width="1" height="1" fill="#000"/><rect x="671" y="367" width="1" height="1" fill="#000"/><rect x="686" y="367" width="1" height="1" fill="#000"/><rect x="702" y="367" width="1" height="1" fill="#000"/><rect x="717" y="367" width="1" height="1" fill="#000"/><rect x="733" y="367" width="1" height="1" fill="#000"/><rect x="748" y="367" width="1" height="1" fill="#000"/><rect x="763" y="367" width="1" height="1" fill="#000"/><rect x="779" y="367" width="1" height="1" fill="#000"/><rect x="794" y="367" width="1" height="1" fill="#000"/>
</g>
<rect x="10" y="9" width="11" height="2" fill="#ff0000" shape-rendering="crispEdges"/><text x="27.50 32.50 37.50 42.50 47.50 52.50 57.50" y="12.00" fill="#000" stroke="#000" font-size="8.80px" font-weight="normal" text-anchor="middle">Teplota</text><rect x="70" y="9" width="11" height="2" fill="#ff00ff" shape-rendering="crispEdges"/><text x="87.50 92.50 97.50 102.50 107.50 112.50 117.50 122.50 127.50 132.50 137.50 142.50 147.50 152.50 157.50 162.50" y="12.00" fill="#000" stroke="#000" font-size="8.80px" font-weight="normal" text-anchor="middle">Přízemní teplota</text><rect x="176" y="9" width="11" height="2" fill="#9400d3" shape-rendering="crispEdges"/><text x="193.50 198.50 203.50 208.50 213.50 218.50 223.50" y="12.00" fill="#000" stroke="#000" font-size="8.80px" font-weight="normal" text-anchor="middle">Vlhkost</text><rect x="235" y="9" width="11" height="2" fill="#228b22" shape-rendering="crispEdges"/><text x="252.50 257.50 262.50 267.50" y="12.00" fill="#000" stroke="#000" font-size="8.80px" font-weight="normal" text-anchor="middle">Tlak</text><rect x="280" y="9" width="11" height="2" fill="#00bfff" shape-rendering="crispEdges"/><text x="297.50 302.50 307.50 312.50 317.50 322.50" y="12.00" fill="#000" stroke="#000" font-size="8.80px" font-weight="normal" text-anchor="middle">Srážky</text><rect x="335" y="9" width="11" height="2" fill="#000" shape-rendering="crispEdges"/><text x="352.50 357.50 362.50 367.50 372.50 377.50 382.50 387.50 392.50 397.50 402.50 407.50 412.50 417.50" y="12.00" fill="#000" stroke="#000" font-size="8.80px" font-weight="normal" text-anchor="middle">Rychlost větru</text><rect x="430" y="9" width="11" height="2" fill="#0000cd" shape-rendering="crispEdges"/><text x="447.50 452.50 457.50 462.50 467.50 472.50 477.50 482.50 487.50 492.50 497.50" y="12.00" fill="#000" stroke="#000" font-size="8.80px" font-weight="normal" text-anchor="middle">Náraz větru</text><rect x="510" y="9" width="11" height="2" fill="#666" shape-rendering="crispEdges"/><text x="527.50 532.50 537.50 542.50 547.50 552.50 557.50 562.50 567.50 572.50" y="12.00" fill="#000" stroke="#000" font-size="8.80px" font-weight="normal" text-anchor="middle">Směr větru</text><rect x="585" y="9" width="11" height="2" fill="#ffff00" shape-rendering="crispEdges"/><text x="602.50 607.50 612.50 617.50 622.50 627.50 632.50 637.50" y="12.00" fill="#ffff00" stroke="#ffff00" font-size="8.80px" font-weight="normal" text-anchor="middle">UV index</text><rect x="650" y="9" width="11" height="2" fill="#ff8000" shape-rendering="crispEdges"/><text x="667.50 672.50 677.50 682.50 687.50" y="12.00" fill="#ff8000" stroke="#ff8000" font-size="8.80px" font-weight="normal" text-anchor="middle">Solar</text>
<text x="82.50 87.50 92.50" y="27.00" fill="#000" stroke="#000" font-size="8.80px" font-weight="normal" text-anchor="middle">max</text><text x="102.50 107.50 112.50 117.50 122.50 127.50" y="27.00" fill="#ff0000" stroke="#ff0000" font-size="8.80px" font-weight="normal" text-anchor="middle"><tspan class="d">14</tspan>.<tspan class="d">5</tspan>°C</text><text x="142.50 147.50 152.50" y="27.00" fill="#ff0000" stroke="#ff0000" font-size="8.80px" font-weight="normal" text-anchor="middle"><tspan class="d">89</tspan>%</text><text x="167.50 172.50 177.50 182.50 187.50 192.50 197.50 202.50 207.50" y="27.00" fill="#ff0000" stroke="#ff0000" font-size="8.80px" font-weight="normal" text-anchor="middle"><tspan class="d">1031</tspan>.<tspan class="d">3</tspan>hPa</text><text x="228.50 233.50 238.50 243.50 248.50" y="27.00" fill="#00bfff" stroke="#00bfff" font-size="8.80px" font-weight="normal" text-anchor="middle" stroke-width="0"><tspan class="d">0</tspan>.<tspan class="d">0</tspan>mm</text><text x="82.50 87.50 92.50" y="37.00" fill="#000" stroke="#000" font-size="8.80px" font-weight="normal" text-anchor="middle">min</text><text x="102.50 107.50 112.50 117.50 122.50 127.50" y="37.00" fill="#0000cd" stroke="#0000cd" font-size="8.80px" font-weight="normal" text-anchor="middle">-<tspan class="d">0</tspan>.<tspan class="d">6</tspan>°C</text><text x="142.50 147.50 152.50" y="37.00" fill="#0000cd" stroke="#0000cd" font-size="8.80px" font-weight="normal" text-anchor="middle"><tspan class="d">31</tspan>%</text><text x="167.50 172.50 177.50 182.50 187.50 192.50 197.50 202.50 207.50" y="37.00" fill="#0000cd" stroke="#0000cd" font-size="8.80px" font-weight="normal" text-anchor="middle"><tspan class="d">1025</tspan>.<tspan class="d">3</tspan>hPa</text><text x="82.50 87.50 92.50" y="47.00" fill="#000" stroke="#000" font-size="8.80px" font-weight="normal" text-anchor="middle">avg</text><text x="107.50 112.50 117.50 122.50 127.50" y="47.00" fill="#000" stroke="#000" font-size="8.80px" font-weight="normal" text-anchor="middle"><tspan class="d">6</tspan>.<tspan class="d">5</tspan>°C</text><text x="501.50 506.50 511.50 516.50 521.50 526.50 531.50 536.50 541.50" y="27.00" fill="#000" stroke="#000" font-size="8.80px" font-weight="normal" text-anchor="middle">WS:<tspan class="d">3</tspan>.<tspan class="d">1</tspan>m/s</text><text x="571.50 576.50 581.50 586.50 591.50 596.50 601.50 606.50 611.50" y="27.00" fill="#000" stroke="#000" font-size="8.80px" font-weight="normal" text-anchor="middle">WG:<tspan class="d">5</tspan>.<tspan class="d">8</tspan>m/s</text><text x="501.50 506.50 511.50 516.50 521.50 526.50 531.50 536.50 541.50 546.50 551.50 556.50" y="37.00" fill="#000" stroke="#000" font-size="8.80px" font-weight="normal" text-anchor="middle">Východ:<tspan class="d">06</tspan>:<tspan class="d">18</tspan></text><text x="571.50 576.50 581.50 586.50 591.50 596.50 601.50 606.50 611.50 616.50 621.50" y="37.00" fill="#000" stroke="#000" font-size="8.80px" font-weight="normal" text-anchor="middle">Západ:<tspan class="d">17</tspan>:<tspan class="d">51</tspan></text><text x="418.00 425.00 432.00 439.00 446.00 453.00 460.00 467.00 474.00 481.00" y="51.20" fill="#000" stroke="#000" font-size="12.40px" font-weight="bold" text-anchor="middle">10.03.2014</text>
<text x="8.50 13.50 18.50" y="47.00" fill="#228b22" stroke="#228b22" font-size="8.80px" font-weight="normal" text-anchor="middle">hPa</text><text x="42.50" y="47.00" fill="#9400d3" stroke="#9400d3" font-size="8.80px" font-weight="normal" text-anchor="middle">%</text><text x="59.50 64.50" y="47.00" fill="#ff0000" stroke="#ff0000" font-size="8.80px" font-weight="normal" text-anchor="middle">°C</text><text x="6.00 11.00 16.00 21.00" y="57.50" fill="#228b22" stroke="#228b22" font-size="8.80px" font-weight="normal" text-anchor="middle"><tspan class="d">1038</tspan></text><text x="6.00 11.00 16.00 21.00" y="73.00" fill="#228b22" stroke="#228b22" font-size="8.80px" font-weight="normal" text-anchor="middle"><tspan class="d">1037</tspan></text><text x="6.00 11.00 16.00 21.00" y="88.50" fill="#228b22" stroke="#228b22" font-size="8.80px" font-weight="normal" text-anchor="middle"><tspan class="d">1036</tspan></text><text x="6.00 11.00 16.00 21.00" y="104.00" fill="#228b22" stroke="#228b22" font-size="8.80px" font-weight="normal" text-anchor="middle"><tspan class="d">1035</tspan></text><text x="6.00 11.00 16.00 21.00" y="119.50" fill="#228b22" stroke="#228b22" font-size="8.80px" font-weight="normal" text-anchor="middle"><tspan class="d">1034</tspan></text><text x="6.00 11.00 16.00 21.00" y="135.00" fill="#228b22" stroke="#228b22" font-size="8.80px" font-weight="normal" text-anchor="middle"><tspan class="d">1033</tspan></text><text x="6.00 11.00 16.00 21.00" y="150.50" fill="#228b22" stroke="#228b22" font-size="8.80px" font-weight="normal" text-anchor="middle"><tspan class="d">1032</tspan></text><text x="6.00 11.00 16.00 21.00" y="166.00" fill="#228b22" stroke="#228b22" font-size="8.80px" font-weight="normal" text-anchor="middle"><tspan class="d">1031</tspan></text><text x="6.00 11.00 16.00 21.00" y="181.50" fill="#228b22" stroke="#228b22" font-size="8.80px" font-weight="normal" text-anchor="middle"><tspan class="d">1030</tspan></text><text x="6.00 11.00 16.00 21.00" y="197.00" fill="#228b22" stroke="#228b22" font-size="8.80px" font-weight="normal" text-anchor="middle"><tspan class="d">1029</tspan></text><text x="6.00 11.00 16.00 21.00" y="212.50" fill="#228b22" stroke="#228b22" font-size="8.80px" font-weight="normal" text-anchor="middle"><tspan class="d">1028</tspan></text><text x="6.00 11.00 16.00 21.00" y="228.00" fill="#228b22" stroke="#228b22" font-size="8.80px" font-weight="normal" text-anchor="middle"><tspan class="d">1027</tspan></text><text x="6.00 11.00 16.00 21.00" y="243.50" fill="#228b22" stroke="#228b22" font-size="8.80px" font-weight="normal" text-anchor="middle"><tspan class="d">1026</tspan></text><text x="6.00 11.00 16.00 21.00" y="259.00" fill="#228b22" stroke="#228b22" font-size="8.80px" font-weight="normal" text-anchor="middle"><tspan class="d">1025</tspan></text><text x="6.00 11.00 16.00 21.00" y="274.50" fill="#228b22" stroke="#228b22" font-size="8.80px" font-weight="normal" text-anchor="middle"><tspan class="d">1024</tspan></text><text x="6.00 11.00 16.00 21.00" y="290.00" fill="#228b22" stroke="#228b22" font-size="8.80px" font-weight="normal" text-anchor="middle"><tspan class="d">1023</tspan></text><text x="6.00 11.00 16.00 21.00" y="305.50" fill="#228b22" stroke="#228b22" font-size="8.80px" font-weight="normal" text-anchor="middle"><tspan class="d">1022</tspan></text><text x="6.00 11.00 16.00 21.00" y="321.00" fill="#228b22" stroke="#228b22" font-size="8.80px" font-weight="normal" text-anchor="middle"><tspan class="d">1021</tspan></text><text x="6.00 11.00 16.00 21.00" y="336.50" fill="#228b22" stroke="#228b22" font-size="8.80px" font-weight="normal" text-anchor="middle"><tspan class="d">1020</tspan></text><text x="6.00 11.00 16.00 21.00" y="352.00" fill="#228b22" stroke="#228b22" font-size="8.80px" font-weight="normal" text-anchor="middle"><tspan class="d">1019</tspan></text><text x="6.00 11.00 16.00 21.00" y="367.50" fill="#228b22" stroke="#228b22" font-size="8.80px" font-weight="normal" text-anchor="middle"><tspan class="d">1018</tspan></text><text x="33.00 38.00 43.00" y="57.50" fill="#9400d3" stroke="#9400d3" font-size="8.80px" font-weight="normal" text-anchor="middle"><tspan class="d">100</tspan></text><text x="38.00 43.00" y="88.50" fill="#9400d3" stroke="#9400d3" font-size="8.80px" font-weight="normal" text-anchor="middle"><tspan class="d">90</tspan></text><text x="38.00 43.00" y="119.50" fill="#9400d3" stroke="#9400d3" font-size="8.80px" font-weight="normal" text-anchor="middle"><tspan class="d">80</tspan></text><text x="38.00 43.00" y="150.50" fill="#9400d3" stroke="#9400d3" font-size="8.80px" font-weight="normal" text-anchor="middle"><tspan class="d">70</tspan></text><text x="38.00 43.00" y="181.50" fill="#9400d3" stroke="#9400d3" font-size="8.80px" font-weight="normal" text-anchor="middle"><tspan class="d">60</tspan></text><text x="38.00 43.00" y="212.50" fill="#9400d3" stroke="#9400d3" font-size="8.80px" font-weight="normal" text-anchor="middle"><tspan class="d">50</tspan></text><text x="38.00 43.00" y="243.50" fill="#9400d3" stroke="#9400d3" font-size="8.80px" font-weight="normal" text-anchor="middle"><tspan class="d">40</tspan></text><text x="38.00 43.00" y="274.50" fill="#9400d3" stroke="#9400d3" font-size="8.80px" font-weight="normal" text-anchor="middle"><tspan class="d">30</tspan></text><text x="38.00 43.00" y="305.50" fill="#9400d3" stroke="#9400d3" font-size="8.80px" font-weight="normal" text-anchor="middle"><tspan class="d">20</tspan></text><text x="38.00 43.00" y="336.50" fill="#9400d3" stroke="#9400d3" font-size="8.80px" font-weight="normal" text-anchor="middle"><tspan class="d">10</tspan></text><text x="43.00" y="367.50" fill="#9400d3" stroke="#9400d3" font-size="8.80px" font-weight="normal" text-anchor="middle"><tspan class="d">0</tspan></text><text x="59.20 64.20" y="57.50" fill="#ff0000" stroke="#ff0000" font-size="8.80px" font-weight="normal" text-anchor="middle"><tspan class="d">19</tspan></text><text x="59.20 64.20" y="78.17" fill="#ff0000" stroke="#ff0000" font-size="8.80px" font-weight="normal" text-anchor="middle"><tspan class="d">17</tspan></text><text x="59.20 64.20" y="98.83" fill="#ff0000" stroke="#ff0000" font-size="8.80px" font-weight="normal" text-anchor="middle"><tspan class="d">15</tspan></text><text x="59.20 64.20" y="119.50" fill="#ff0000" stroke="#ff0000" font-size="8.80px" font-weight="normal" text-anchor="middle"><tspan class="d">13</tspan></text><text x="59.20 64.20" y="140.17" fill="#ff0000" stroke="#ff0000" font-size="8.80px" font-weight="normal" text-anchor="middle"><tspan class="d">11</tspan></text><text x="64.20" y="160.83" fill="#ff0000" stroke="#ff0000" font-size="8.80px" font-weight="normal" text-anchor="middle"><tspan class="d">9</tspan></text><text x="64.20" y="181.50" fill="#ff0000" stroke="#ff0000" font-size="8.80px" font-weight="normal" text-anchor="middle"><tspan class="d">7</tspan></text><text x="64.20" y="202.17" fill="#ff0000" stroke="#ff0000" font-size="8.80px" font-weight="normal" text-anchor="middle"><tspan class="d">5</tspan></text><text x="64.20" y="222.83" fill="#ff0000" stroke="#ff0000" font-size="8.80px" font-weight="normal" text-anchor="middle"><tspan class="d">3</tspan></text><text x="64.20" y="243.50" fill="#ff0000" stroke="#ff0000" font-size="8.80px" font-weight="normal" text-anchor="middle"><tspan class="d">1</tspan></text><text x="59.20 64.20" y="264.17" fill="#ff0000" stroke="#ff0000" font-size="8.80px" font-weight="normal" text-anchor="middle">-<tspan class="d">1</tspan></text><text x="59.20 64.20" y="284.83" fill="#ff0000" stroke="#ff0000" font-size="8.80px" font-weight="normal" text-anchor="middle">-<tspan class="d">3</tspan></text><text x="59.20 64.20" y="305.50" fill="#ff0000" stroke="#ff0000" font-size="8.80px" font-weight="normal" text-anchor="middle">-<tspan class="d">5</tspan></text><text x="59.20 64.20" y="326.17" fill="#ff0000" stroke="#ff0000" font-size="8.80px" font-weight="normal" text-anchor="middle">-<tspan class="d">7</tspan></text><text x="59.20 64.20" y="346.83" fill="#ff0000" stroke="#ff0000" font-size="8.80px" font-weight="normal" text-anchor="middle">-<tspan class="d">9</tspan></text><text x="54.20 59.20 64.20" y="367.50" fill="#ff0000" stroke="#ff0000" font-size="8.80px" font-weight="normal" text-anchor="middle">-<tspan class="d">11</tspan></text><text x="64.20" y="253.83" fill="#ff0000" stroke="#ff0000" font-size="8.80px" font-weight="normal" text-anchor="middle"><tspan class="d">0</tspan></text><text x="809.50" y="46.00" fill="#666" stroke="#666" font-size="8.00px" font-weight="normal" text-anchor="middle" stroke-width="0">°</text><text x="830.50 835.50 840.50" y="47.00" fill="#000" stroke="#000" font-size="8.80px" font-weight="normal" text-anchor="middle">m/s</text><text x="850.50 855.50" y="47.00" fill="#00bfff" stroke="#00bfff" font-size="8.80px" font-weight="normal" text-anchor="middle" stroke-width="0">mm</text><text x="880.50" y="47.00" fill="#ff8000" stroke="#ff8000" font-size="8.80px" font-weight="normal" text-anchor="middle">W</text><text x="810.40 815.20 820.00" y="57.90" fill="#666" stroke="#666" font-size="8.20px" font-weight="normal" text-anchor="middle" stroke-width="0.15"><tspan class="d">360</tspan></text><text x="815.00" y="65.90" fill="#666" stroke="#666" font-size="7.60px" font-weight="normal" text-anchor="middle" stroke-width="0.15">N</text><text x="810.40 815.20 820.00" y="96.65" fill="#666" stroke="#666" font-size="8.20px" font-weight="normal" text-anchor="middle" stroke-width="0.15"><tspan class="d">315</tspan></text><text x="810.00 815.00" y="104.65" fill="#666" stroke="#666" font-size="7.60px" font-weight="normal" text-anchor="middle" stroke-width="0.15">NW</text><text x="810.40 815.20 820.00" y="135.40" fill="#666" stroke="#666" font-size="8.20px" font-weight="normal" text-anchor="middle" stroke-width="0.15"><tspan class="d">270</tspan></text><text x="815.00" y="143.40" fill="#666" stroke="#666" font-size="7.60px" font-weight="normal" text-anchor="middle" stroke-width="0.15">W</text><text x="810.40 815.20 820.00" y="174.15" fill="#666" stroke="#666" font-size="8.20px" font-weight="normal" text-anchor="middle" stroke-width="0.15"><tspan class="d">225</tspan></text><text x="810.00 815.00" y="182.15" fill="#666" stroke="#666" font-size="7.60px" font-weight="normal" text-anchor="middle" stroke-width="0.15">SW</text><text x="810.40 815.20 820.00" y="212.90" fill="#666" stroke="#666" font-size="8.20px" font-weight="normal" text-anchor="middle" stroke-width="0.15"><tspan class="d">180</tspan></text><text x="815.00" y="220.90" fill="#666" stroke="#666" font-size="7.60px" font-weight="normal" text-anchor="middle" stroke-width="0.15">S</text><text x="810.40 815.20 820.00" y="251.65" fill="#666" stroke="#666" font-size="8.20px" font-weight="normal" text-anchor="middle" stroke-width="0.15"><tspan class="d">135</tspan></text><text x="810.00 815.00" y="259.65" fill="#666" stroke="#666" font-size="7.60px" font-weight="normal" text-anchor="middle" stroke-width="0.15">SE</text><text x="810.40 815.20" y="290.40" fill="#666" stroke="#666" font-size="8.20px" font-weight="normal" text-anchor="middle" stroke-width="0.15"><tspan class="d">90</tspan></text><text x="815.00" y="298.40" fill="#666" stroke="#666" font-size="7.60px" font-weight="normal" text-anchor="middle" stroke-width="0.15">E</text><text x="810.40 815.20" y="329.15" fill="#666" stroke="#666" font-size="8.20px" font-weight="normal" text-anchor="middle" stroke-width="0.15"><tspan class="d">45</tspan></text><text x="810.00 815.00" y="337.15" fill="#666" stroke="#666" font-size="7.60px" font-weight="normal" text-anchor="middle" stroke-width="0.15">NE</text><text x="830.50 835.50" y="57.50" fill="#000" stroke="#000" font-size="8.80px" font-weight="normal" text-anchor="middle"><tspan class="d">13</tspan></text><text x="830.50 835.50" y="81.35" fill="#000" stroke="#000" font-size="8.80px" font-weight="normal" text-anchor="middle"><tspan class="d">12</tspan></text><text x="830.50 835.50" y="105.19" fill="#000" stroke="#000" font-size="8.80px" font-weight="normal" text-anchor="middle"><tspan class="d">11</tspan></text><text x="830.50 835.50" y="129.04" fill="#000" stroke="#000" font-size="8.80px" font-weight="normal" text-anchor="middle"><tspan class="d">10</tspan></text><text x="830.50" y="152.88" fill="#000" stroke="#000" font-size="8.80px" font-weight="normal" text-anchor="middle"><tspan class="d">9</tspan></text><text x="830.50" y="176.73" fill="#000" stroke="#000" font-size="8.80px" font-weight="normal" text-anchor="middle"><tspan class="d">8</tspan></text><text x="830.50" y="200.58" fill="#000" stroke="#000" font-size="8.80px" font-weight="normal" text-anchor="middle"><tspan class="d">7</tspan></text><text x="830.50" y="224.42" fill="#000" stroke="#000" font-size="8.80px" font-weight="normal" text-anchor="middle"><tspan class="d">6</tspan></text><text x="830.50" y="248.27" fill="#000" stroke="#000" font-size="8.80px" font-weight="normal" text-anchor="middle"><tspan class="d">5</tspan></text><text x="830.50" y="272.11" fill="#000" stroke="#000" font-size="8.80px" font-weight="normal" text-anchor="middle"><tspan class="d">4</tspan></text><text x="830.50" y="295.96" fill="#000" stroke="#000" font-size="8.80px" font-weight="normal" text-anchor="middle"><tspan class="d">3</tspan></text><text x="830.50" y="319.81" fill="#000" stroke="#000" font-size="8.80px" font-weight="normal" text-anchor="middle"><tspan class="d">2</tspan></text><text x="830.50" y="343.65" fill="#000" stroke="#000" font-size="8.80px" font-weight="normal" text-anchor="middle"><tspan class="d">1</tspan></text><text x="830.50" y="367.50" fill="#000" stroke="#000" font-size="8.80px" font-weight="normal" text-anchor="middle"><tspan class="d">0</tspan></text><text x="850.50" y="57.50" fill="#00bfff" stroke="#00bfff" font-size="8.80px" font-weight="normal" text-anchor="middle"><tspan class="d">1</tspan></text><text x="850.50" y="367.50" fill="#00bfff" stroke="#00bfff" font-size="8.80px" font-weight="normal" text-anchor="middle"><tspan class="d">0</tspan></text><text x="865.50" y="57.50" fill="#ffff00" stroke="#ffff00" font-size="8.80px" font-weight="normal" text-anchor="middle" stroke-width="0.15"><tspan class="d">5</tspan></text><text x="865.50" y="119.50" fill="#ffff00" stroke="#ffff00" font-size="8.80px" font-weight="normal" text-anchor="middle" stroke-width="0.15"><tspan class="d">4</tspan></text><text x="865.50" y="181.50" fill="#ffff00" stroke="#ffff00" font-size="8.80px" font-weight="normal" text-anchor="middle" stroke-width="0.15"><tspan class="d">3</tspan></text><text x="865.50" y="243.50" fill="#ffff00" stroke="#ffff00" font-size="8.80px" font-weight="normal" text-anchor="middle" stroke-width="0.15"><tspan class="d">2</tspan></text><text x="865.50" y="305.50" fill="#ffff00" stroke="#ffff00" font-size="8.80px" font-weight="normal" text-anchor="middle" stroke-width="0.15"><tspan class="d">1</tspan></text><text x="865.50" y="367.50" fill="#ffff00" stroke="#ffff00" font-size="8.80px" font-weight="normal" text-anchor="middle" stroke-width="0.15"><tspan class="d">0</tspan></text><text x="880.50" y="367.50" fill="#ff8000" stroke="#ff8000" font-size="8.80px" font-weight="normal" text-anchor="middle" stroke-width="0.1"><tspan class="d">0</tspan></text><text x="880.50 885.50 890.50" y="352.00" fill="#ff8000" stroke="#ff8000" font-size="8.80px" font-weight="normal" text-anchor="middle" stroke-width="0.1"><tspan class="d">150</tspan></text><text x="880.50 885.50 890.50" y="336.50" fill="#ff8000" stroke="#ff8000" font-size="8.80px" font-weight="normal" text-anchor="middle" stroke-width="0.1"><tspan class="d">300</tspan></text><text x="880.50 885.50 890.50" y="321.00" fill="#ff8000" stroke="#ff8000" font-size="8.80px" font-weight="normal" text-anchor="middle" stroke-width="0.1"><tspan class="d">450</tspan></text><text x="880.50 885.50 890.50" y="305.50" fill="#ff8000" stroke="#ff8000" font-size="8.80px" font-weight="normal" text-anchor="middle" stroke-width="0.1"><tspan class="d">600</tspan></text><text x="880.50 885.50 890.50" y="290.00" fill="#ff8000" stroke="#ff8000" font-size="8.80px" font-weight="normal" text-anchor="middle" stroke-width="0.1"><tspan class="d">750</tspan></text><text x="880.50 885.50 890.50" y="274.50" fill="#ff8000" stroke="#ff8000" font-size="8.80px" font-weight="normal" text-anchor="middle" stroke-width="0.1"><tspan class="d">900</tspan></text><text x="880.50 885.50 890.50 895.50" y="259.00" fill="#ff8000" stroke="#ff8000" font-size="8.80px" font-weight="normal" text-anchor="middle" stroke-width="0.1"><tspan class="d">1050</tspan></text><text x="880.50 885.50 890.50 895.50" y="243.50" fill="#ff8000" stroke="#ff8000" font-size="8.80px" font-weight="normal" text-anchor="middle" stroke-width="0.1"><tspan class="d">1200</tspan></text><text x="880.50 885.50 890.50 895.50" y="228.00" fill="#ff8000" stroke="#ff8000" font-size="8.80px" font-weight="normal" text-anchor="middle" stroke-width="0.1"><tspan class="d">1350</tspan></text><text x="880.50 885.50 890.50 895.50" y="212.50" fill="#ff8000" stroke="#ff8000" font-size="8.80px" font-weight="normal" text-anchor="middle" stroke-width="0.1"><tspan class="d">1500</tspan></text><text x="817.50 822.50 827.50" y="377.00" fill="#000" stroke="#000" font-size="8.80px" font-weight="normal" text-anchor="middle">čas</text>
<text transform="translate(73.3,397.0) rotate(-90)" x="2.50 7.50 12.50 17.50 22.50" y="0" text-anchor="middle" font-size="8.80px" font-weight="bold" fill="#000"><tspan class="d">00</tspan>:<tspan class="d">00</tspan></text><text transform="translate(88.3,397.0) rotate(-90)" x="2.50 7.50 12.50 17.50 22.50" y="0" text-anchor="middle" font-size="8.80px" font-weight="bold" fill="#000"><tspan class="d">00</tspan>:<tspan class="d">30</tspan></text><text transform="translate(103.3,397.0) rotate(-90)" x="2.50 7.50 12.50 17.50 22.50" y="0" text-anchor="middle" font-size="8.80px" font-weight="bold" fill="#000"><tspan class="d">01</tspan>:<tspan class="d">00</tspan></text><text transform="translate(119.3,397.0) rotate(-90)" x="2.50 7.50 12.50 17.50 22.50" y="0" text-anchor="middle" font-size="8.80px" font-weight="bold" fill="#000"><tspan class="d">01</tspan>:<tspan class="d">30</tspan></text><text transform="translate(134.3,397.0) rotate(-90)" x="2.50 7.50 12.50 17.50 22.50" y="0" text-anchor="middle" font-size="8.80px" font-weight="bold" fill="#000"><tspan class="d">02</tspan>:<tspan class="d">00</tspan></text><text transform="translate(150.3,397.0) rotate(-90)" x="2.50 7.50 12.50 17.50 22.50" y="0" text-anchor="middle" font-size="8.80px" font-weight="bold" fill="#000"><tspan class="d">02</tspan>:<tspan class="d">30</tspan></text><text transform="translate(165.3,397.0) rotate(-90)" x="2.50 7.50 12.50 17.50 22.50" y="0" text-anchor="middle" font-size="8.80px" font-weight="bold" fill="#000"><tspan class="d">03</tspan>:<tspan class="d">05</tspan></text><text transform="translate(180.3,397.0) rotate(-90)" x="2.50 7.50 12.50 17.50 22.50" y="0" text-anchor="middle" font-size="8.80px" font-weight="bold" fill="#000"><tspan class="d">03</tspan>:<tspan class="d">35</tspan></text><text transform="translate(196.3,397.0) rotate(-90)" x="2.50 7.50 12.50 17.50 22.50" y="0" text-anchor="middle" font-size="8.80px" font-weight="bold" fill="#000"><tspan class="d">04</tspan>:<tspan class="d">05</tspan></text><text transform="translate(211.3,397.0) rotate(-90)" x="2.50 7.50 12.50 17.50 22.50" y="0" text-anchor="middle" font-size="8.80px" font-weight="bold" fill="#000"><tspan class="d">04</tspan>:<tspan class="d">35</tspan></text><text transform="translate(227.3,397.0) rotate(-90)" x="2.50 7.50 12.50 17.50 22.50" y="0" text-anchor="middle" font-size="8.80px" font-weight="bold" fill="#000"><tspan class="d">05</tspan>:<tspan class="d">05</tspan></text><text transform="translate(242.3,397.0) rotate(-90)" x="2.50 7.50 12.50 17.50 22.50" y="0" text-anchor="middle" font-size="8.80px" font-weight="bold" fill="#000"><tspan class="d">05</tspan>:<tspan class="d">35</tspan></text><text transform="translate(258.3,397.0) rotate(-90)" x="2.50 7.50 12.50 17.50 22.50" y="0" text-anchor="middle" font-size="8.80px" font-weight="bold" fill="#000"><tspan class="d">06</tspan>:<tspan class="d">05</tspan></text><text transform="translate(273.3,397.0) rotate(-90)" x="2.50 7.50 12.50 17.50 22.50" y="0" text-anchor="middle" font-size="8.80px" font-weight="bold" fill="#000"><tspan class="d">06</tspan>:<tspan class="d">35</tspan></text><text transform="translate(288.3,397.0) rotate(-90)" x="2.50 7.50 12.50 17.50 22.50" y="0" text-anchor="middle" font-size="8.80px" font-weight="bold" fill="#000"><tspan class="d">07</tspan>:<tspan class="d">05</tspan></text><text transform="translate(304.3,397.0) rotate(-90)" x="2.50 7.50 12.50 17.50 22.50" y="0" text-anchor="middle" font-size="8.80px" font-weight="bold" fill="#000"><tspan class="d">07</tspan>:<tspan class="d">35</tspan></text><text transform="translate(319.3,397.0) rotate(-90)" x="2.50 7.50 12.50 17.50 22.50" y="0" text-anchor="middle" font-size="8.80px" font-weight="bold" fill="#000"><tspan class="d">08</tspan>:<tspan class="d">05</tspan></text><text transform="translate(335.3,397.0) rotate(-90)" x="2.50 7.50 12.50 17.50 22.50" y="0" text-anchor="middle" font-size="8.80px" font-weight="bold" fill="#000"><tspan class="d">08</tspan>:<tspan class="d">35</tspan></text><text transform="translate(350.3,397.0) rotate(-90)" x="2.50 7.50 12.50 17.50 22.50" y="0" text-anchor="middle" font-size="8.80px" font-weight="bold" fill="#000"><tspan class="d">09</tspan>:<tspan class="d">05</tspan></text><text transform="translate(366.3,397.0) rotate(-90)" x="2.50 7.50 12.50 17.50 22.50" y="0" text-anchor="middle" font-size="8.80px" font-weight="bold" fill="#000"><tspan class="d">09</tspan>:<tspan class="d">35</tspan></text><text transform="translate(381.3,397.0) rotate(-90)" x="2.50 7.50 12.50 17.50 22.50" y="0" text-anchor="middle" font-size="8.80px" font-weight="bold" fill="#000"><tspan class="d">10</tspan>:<tspan class="d">05</tspan></text><text transform="translate(396.3,397.0) rotate(-90)" x="2.50 7.50 12.50 17.50 22.50" y="0" text-anchor="middle" font-size="8.80px" font-weight="bold" fill="#000"><tspan class="d">10</tspan>:<tspan class="d">35</tspan></text><text transform="translate(412.3,397.0) rotate(-90)" x="2.50 7.50 12.50 17.50 22.50" y="0" text-anchor="middle" font-size="8.80px" font-weight="bold" fill="#000"><tspan class="d">11</tspan>:<tspan class="d">05</tspan></text><text transform="translate(427.3,397.0) rotate(-90)" x="2.50 7.50 12.50 17.50 22.50" y="0" text-anchor="middle" font-size="8.80px" font-weight="bold" fill="#000"><tspan class="d">11</tspan>:<tspan class="d">35</tspan></text><text transform="translate(443.3,397.0) rotate(-90)" x="2.50 7.50 12.50 17.50 22.50" y="0" text-anchor="middle" font-size="8.80px" font-weight="bold" fill="#000"><tspan class="d">12</tspan>:<tspan class="d">05</tspan></text><text transform="translate(458.3,397.0) rotate(-90)" x="2.50 7.50 12.50 17.50 22.50" y="0" text-anchor="middle" font-size="8.80px" font-weight="bold" fill="#000"><tspan class="d">12</tspan>:<tspan class="d">35</tspan></text><text transform="translate(473.3,397.0) rotate(-90)" x="2.50 7.50 12.50 17.50 22.50" y="0" text-anchor="middle" font-size="8.80px" font-weight="bold" fill="#000"><tspan class="d">13</tspan>:<tspan class="d">05</tspan></text><text transform="translate(489.3,397.0) rotate(-90)" x="2.50 7.50 12.50 17.50 22.50" y="0" text-anchor="middle" font-size="8.80px" font-weight="bold" fill="#000"><tspan class="d">13</tspan>:<tspan class="d">35</tspan></text><text transform="translate(504.3,397.0) rotate(-90)" x="2.50 7.50 12.50 17.50 22.50" y="0" text-anchor="middle" font-size="8.80px" font-weight="bold" fill="#000"><tspan class="d">14</tspan>:<tspan class="d">05</tspan></text><text transform="translate(520.3,397.0) rotate(-90)" x="2.50 7.50 12.50 17.50 22.50" y="0" text-anchor="middle" font-size="8.80px" font-weight="bold" fill="#000"><tspan class="d">14</tspan>:<tspan class="d">35</tspan></text><text transform="translate(535.3,397.0) rotate(-90)" x="2.50 7.50 12.50 17.50 22.50" y="0" text-anchor="middle" font-size="8.80px" font-weight="bold" fill="#000"><tspan class="d">15</tspan>:<tspan class="d">05</tspan></text><text transform="translate(551.3,397.0) rotate(-90)" x="2.50 7.50 12.50 17.50 22.50" y="0" text-anchor="middle" font-size="8.80px" font-weight="bold" fill="#000"><tspan class="d">15</tspan>:<tspan class="d">35</tspan></text><text transform="translate(566.3,397.0) rotate(-90)" x="2.50 7.50 12.50 17.50 22.50" y="0" text-anchor="middle" font-size="8.80px" font-weight="bold" fill="#000"><tspan class="d">16</tspan>:<tspan class="d">05</tspan></text><text transform="translate(581.3,397.0) rotate(-90)" x="2.50 7.50 12.50 17.50 22.50" y="0" text-anchor="middle" font-size="8.80px" font-weight="bold" fill="#000"><tspan class="d">16</tspan>:<tspan class="d">35</tspan></text><text transform="translate(597.3,397.0) rotate(-90)" x="2.50 7.50 12.50 17.50 22.50" y="0" text-anchor="middle" font-size="8.80px" font-weight="bold" fill="#000"><tspan class="d">17</tspan>:<tspan class="d">05</tspan></text><text transform="translate(612.3,397.0) rotate(-90)" x="2.50 7.50 12.50 17.50 22.50" y="0" text-anchor="middle" font-size="8.80px" font-weight="bold" fill="#000"><tspan class="d">17</tspan>:<tspan class="d">35</tspan></text><text transform="translate(628.3,397.0) rotate(-90)" x="2.50 7.50 12.50 17.50 22.50" y="0" text-anchor="middle" font-size="8.80px" font-weight="bold" fill="#000"><tspan class="d">18</tspan>:<tspan class="d">05</tspan></text><text transform="translate(643.3,397.0) rotate(-90)" x="2.50 7.50 12.50 17.50 22.50" y="0" text-anchor="middle" font-size="8.80px" font-weight="bold" fill="#000"><tspan class="d">18</tspan>:<tspan class="d">35</tspan></text><text transform="translate(658.3,397.0) rotate(-90)" x="2.50 7.50 12.50 17.50 22.50" y="0" text-anchor="middle" font-size="8.80px" font-weight="bold" fill="#000"><tspan class="d">19</tspan>:<tspan class="d">05</tspan></text><text transform="translate(674.3,397.0) rotate(-90)" x="2.50 7.50 12.50 17.50 22.50" y="0" text-anchor="middle" font-size="8.80px" font-weight="bold" fill="#000"><tspan class="d">19</tspan>:<tspan class="d">35</tspan></text><text transform="translate(689.3,397.0) rotate(-90)" x="2.50 7.50 12.50 17.50 22.50" y="0" text-anchor="middle" font-size="8.80px" font-weight="bold" fill="#000"><tspan class="d">20</tspan>:<tspan class="d">05</tspan></text><text transform="translate(705.3,397.0) rotate(-90)" x="2.50 7.50 12.50 17.50 22.50" y="0" text-anchor="middle" font-size="8.80px" font-weight="bold" fill="#000"><tspan class="d">20</tspan>:<tspan class="d">35</tspan></text><text transform="translate(720.3,397.0) rotate(-90)" x="2.50 7.50 12.50 17.50 22.50" y="0" text-anchor="middle" font-size="8.80px" font-weight="bold" fill="#000"><tspan class="d">21</tspan>:<tspan class="d">05</tspan></text><text transform="translate(736.3,397.0) rotate(-90)" x="2.50 7.50 12.50 17.50 22.50" y="0" text-anchor="middle" font-size="8.80px" font-weight="bold" fill="#000"><tspan class="d">21</tspan>:<tspan class="d">35</tspan></text><text transform="translate(751.3,397.0) rotate(-90)" x="2.50 7.50 12.50 17.50 22.50" y="0" text-anchor="middle" font-size="8.80px" font-weight="bold" fill="#000"><tspan class="d">22</tspan>:<tspan class="d">05</tspan></text><text transform="translate(766.3,397.0) rotate(-90)" x="2.50 7.50 12.50 17.50 22.50" y="0" text-anchor="middle" font-size="8.80px" font-weight="bold" fill="#000"><tspan class="d">22</tspan>:<tspan class="d">35</tspan></text><text transform="translate(782.3,397.0) rotate(-90)" x="2.50 7.50 12.50 17.50 22.50" y="0" text-anchor="middle" font-size="8.80px" font-weight="bold" fill="#000"><tspan class="d">23</tspan>:<tspan class="d">05</tspan></text><text transform="translate(797.3,397.0) rotate(-90)" x="2.50 7.50 12.50 17.50 22.50" y="0" text-anchor="middle" font-size="8.80px" font-weight="bold" fill="#000"><tspan class="d">23</tspan>:<tspan class="d">35</tspan></text>
<rect x="0.5" y="0.5" width="899" height="399" fill="none" stroke="#000" stroke-width="1" shape-rendering="crispEdges"/>
</svg>
</body></html>
